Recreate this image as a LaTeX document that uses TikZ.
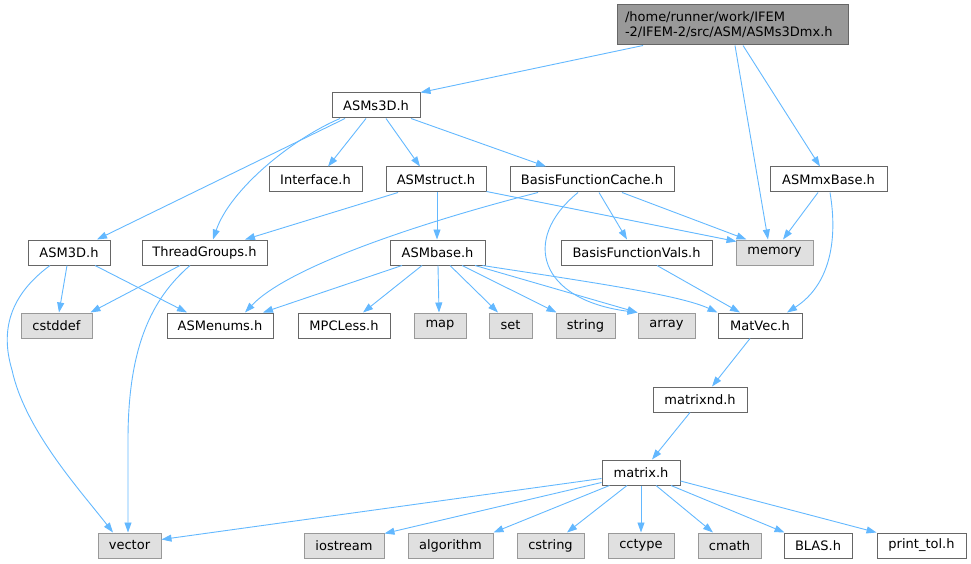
\documentclass[tikz,border=0pt]{standalone}
\usepackage{fontspec}
\setmainfont{DejaVu Sans}
\usetikzlibrary{arrows.meta}
\definecolor{edgeblue}{HTML}{63B8FF}
\definecolor{bordergray}{HTML}{666666}
\definecolor{sysborder}{HTML}{999999}
\definecolor{sysfill}{HTML}{E0E0E0}
\definecolor{rootfill}{HTML}{999999}
\tikzset{
  filebox/.style={draw=bordergray, fill=white, line width=1pt, inner sep=0pt, minimum height=25pt, font=\fontsize{13}{15}\selectfont},
  sysbox/.style={draw=sysborder, fill=sysfill, line width=1pt, inner sep=0pt, minimum height=25pt, font=\fontsize{13}{15}\selectfont},
  rootbox/.style={draw=bordergray, fill=rootfill, line width=1pt, inner sep=0pt, minimum height=40pt, font=\fontsize{13}{15}\selectfont, align=left},
  dep/.style={draw=edgeblue, line width=0.9pt, -{Triangle[length=10pt,width=7pt]}, edgeblue},
}
\begin{document}
\begin{tikzpicture}[x=1pt,y=-1pt]
\useasboundingbox (0,0) rectangle (971,564);
% nodes
\node[rootbox, minimum width=231pt, text width=215pt] (root) at (732.5,25) {/home/runner/work/IFEM\\-2/IFEM-2/src/ASM/ASMs3Dmx.h};
\node[filebox, minimum width=88pt] (ASMs3D) at (376,105.5) {ASMs3D.h};
\node[filebox, minimum width=93pt] (Interface) at (315.5,179.5) {Interface.h};
\node[filebox, minimum width=100pt] (ASMstruct) at (436,179.5) {ASMstruct.h};
\node[filebox, minimum width=164pt] (BFC) at (592,179.5) {BasisFunctionCache.h};
\node[filebox, minimum width=117pt] (ASMmxBase) at (828.5,179.5) {ASMmxBase.h};
\node[filebox, minimum width=82pt] (ASM3D) at (69,252.5) {ASM3D.h};
\node[filebox, minimum width=125pt] (ThreadGroups) at (204.5,252.5) {ThreadGroups.h};
\node[filebox, minimum width=95pt] (ASMbase) at (437.5,252.5) {ASMbase.h};
\node[filebox, minimum width=151pt] (BFVals) at (636.5,252.5) {BasisFunctionVals.h};
\node[sysbox, minimum width=77pt] (memory) at (774.5,252.5) {memory};
\node[sysbox, minimum width=71pt] (cstddef) at (56.5,325.5) {cstddef};
\node[filebox, minimum width=106pt] (ASMenums) at (220,325.5) {ASMenums.h};
\node[filebox, minimum width=92pt] (MPCLess) at (344,325.5) {MPCLess.h};
\node[sysbox, minimum width=52pt] (map) at (440,325.5) {map};
\node[sysbox, minimum width=43pt] (set) at (510.5,325.5) {set};
\node[sysbox, minimum width=59pt] (string) at (585.5,325.5) {string};
\node[sysbox, minimum width=57pt] (array) at (666.5,325.5) {array};
\node[filebox, minimum width=84pt] (MatVec) at (760,325.5) {MatVec.h};
\node[filebox, minimum width=94pt] (matrixnd) at (700,399.5) {matrixnd.h};
\node[filebox, minimum width=78pt] (matrix) at (641,472.5) {matrix.h};
\node[sysbox, minimum width=63pt] (vector) at (129.5,545.5) {vector};
\node[sysbox, minimum width=80pt] (iostream) at (344,545.5) {iostream};
\node[sysbox, minimum width=85pt] (algorithm) at (450.5,545.5) {algorithm};
\node[sysbox, minimum width=67pt] (cstring) at (550.5,545.5) {cstring};
\node[sysbox, minimum width=66pt] (cctype) at (641,545.5) {cctype};
\node[sysbox, minimum width=63pt] (cmath) at (729.5,545.5) {cmath};
\node[filebox, minimum width=68pt] (BLAS) at (818,545.5) {BLAS.h};
\node[filebox, minimum width=89pt] (printtol) at (921.5,545.5) {print\_tol.h};
% edges
\draw[dep] ([xshift=-89.5pt]root.south) -- (ASMs3D.north east);
\draw[dep] ([xshift=2.5pt]root.south) -- ([xshift=-6.5pt]memory.north);
\draw[dep] ([xshift=10.5pt]root.south) -- ([xshift=-8.5pt]ASMmxBase.north);
\draw[dep] ([xshift=-31pt]ASMs3D.south) -- ([xshift=28pt]ASM3D.north);
\draw[dep] ([xshift=-36pt]ASMs3D.south) .. controls (290,140) and (230,190) .. ([xshift=8.5pt]ThreadGroups.north);
\draw[dep] ([xshift=-10pt]ASMs3D.south) -- ([xshift=12.5pt]Interface.north);
\draw[dep] ([xshift=10pt]ASMs3D.south) -- ([xshift=-16pt]ASMstruct.north);
\draw[dep] ([xshift=35pt]ASMs3D.south) -- ([xshift=-46pt]BFC.north);
\draw[dep] ([xshift=-38pt]ASMstruct.south) -- ([xshift=40.5pt]ThreadGroups.north);
\draw[dep] ([xshift=1pt]ASMstruct.south) -- ([xshift=-0.5pt]ASMbase.north);
\draw[dep] ([yshift=1pt]ASMstruct.south east) -- ([xshift=1pt,yshift=-2pt]memory.north west);
\draw[dep] ([xshift=-54pt]BFC.south) .. controls (430,220) and (290,265) .. ([xshift=25pt]ASMenums.north);
\draw[dep] ([xshift=-14pt]BFC.south) .. controls (520,240) and (540,300) .. ([xshift=-29pt]array.north);
\draw[dep] ([xshift=7pt]BFC.south) -- ([xshift=-9.5pt]BFVals.north);
\draw[dep] ([xshift=30pt]BFC.south) -- ([xshift=-28pt]memory.north);
\draw[dep] ([xshift=-35.5pt]ASMbase.south) -- ([xshift=43pt]ASMenums.north);
\draw[dep] ([xshift=-15.5pt]ASMbase.south) -- ([xshift=19pt]MPCLess.north);
\draw[dep] ([xshift=0.5pt]ASMbase.south) -- ([xshift=-1pt]map.north);
\draw[dep] ([xshift=12.5pt]ASMbase.south) -- ([xshift=-12.5pt]set.north);
\draw[dep] ([xshift=24.5pt]ASMbase.south) -- ([xshift=-29pt]string.north);
\draw[dep] ([xshift=37.5pt]ASMbase.south) -- ([xshift=-29pt]array.north);
\draw[dep] ([xshift=45pt]ASMbase.south) .. controls (590,282) and (680,295) .. (MatVec.north west);
\draw[dep] ([xshift=20.5pt]BFVals.south) -- ([xshift=-20pt]MatVec.north);
\draw[dep] ([xshift=-10.5pt]ASMmxBase.south) -- ([xshift=8.5pt]memory.north);
\draw[dep] ([xshift=1.5pt]ASMmxBase.south) .. controls (838,240) and (830,285) .. ([xshift=27pt]MatVec.north);
\draw[dep] ([xshift=-10pt]MatVec.south) -- ([xshift=12pt]matrixnd.north);
\draw[dep] ([xshift=-10pt]matrixnd.south) -- ([xshift=11pt]matrix.north);
\draw[dep] ([xshift=-2pt]ASM3D.south) -- ([xshift=2.5pt]cstddef.north);
\draw[dep] ([xshift=26pt]ASM3D.south) -- ([xshift=-33pt]ASMenums.north);
\draw[dep] ([xshift=-19pt]ASM3D.south) .. controls (10,295) and (0,330) .. (12,370) .. controls (25,430) and (80,490) .. ([xshift=-16.5pt]vector.north);
\draw[dep] ([xshift=-24.5pt]ThreadGroups.south) -- ([xshift=-2pt]cstddef.north east);
\draw[dep] ([xshift=-14.5pt]ThreadGroups.south) .. controls (150,300) and (128,350) .. (128,440) -- ([xshift=-1.5pt]vector.north);
\draw[dep] ([yshift=-6pt]matrix.west) -- ([yshift=6pt]vector.east);
\draw[dep] ([yshift=-10pt]matrix.west) -- ([yshift=-1pt]iostream.north east);
\draw[dep] ([xshift=8pt]matrix.south west) -- (algorithm.north east);
\draw[dep] ([xshift=-14pt]matrix.south) -- ([xshift=16.5pt]cstring.north);
\draw[dep] (matrix.south) -- (cctype.north);
\draw[dep] ([xshift=15pt]matrix.south) -- ([xshift=-16.5pt]cmath.north);
\draw[dep] ([xshift=30pt]matrix.south) -- ([xshift=1pt]BLAS.north west);
\draw[dep] ([yshift=-8.5pt]matrix.east) -- (printtol.north west);
\end{tikzpicture}
\end{document}
